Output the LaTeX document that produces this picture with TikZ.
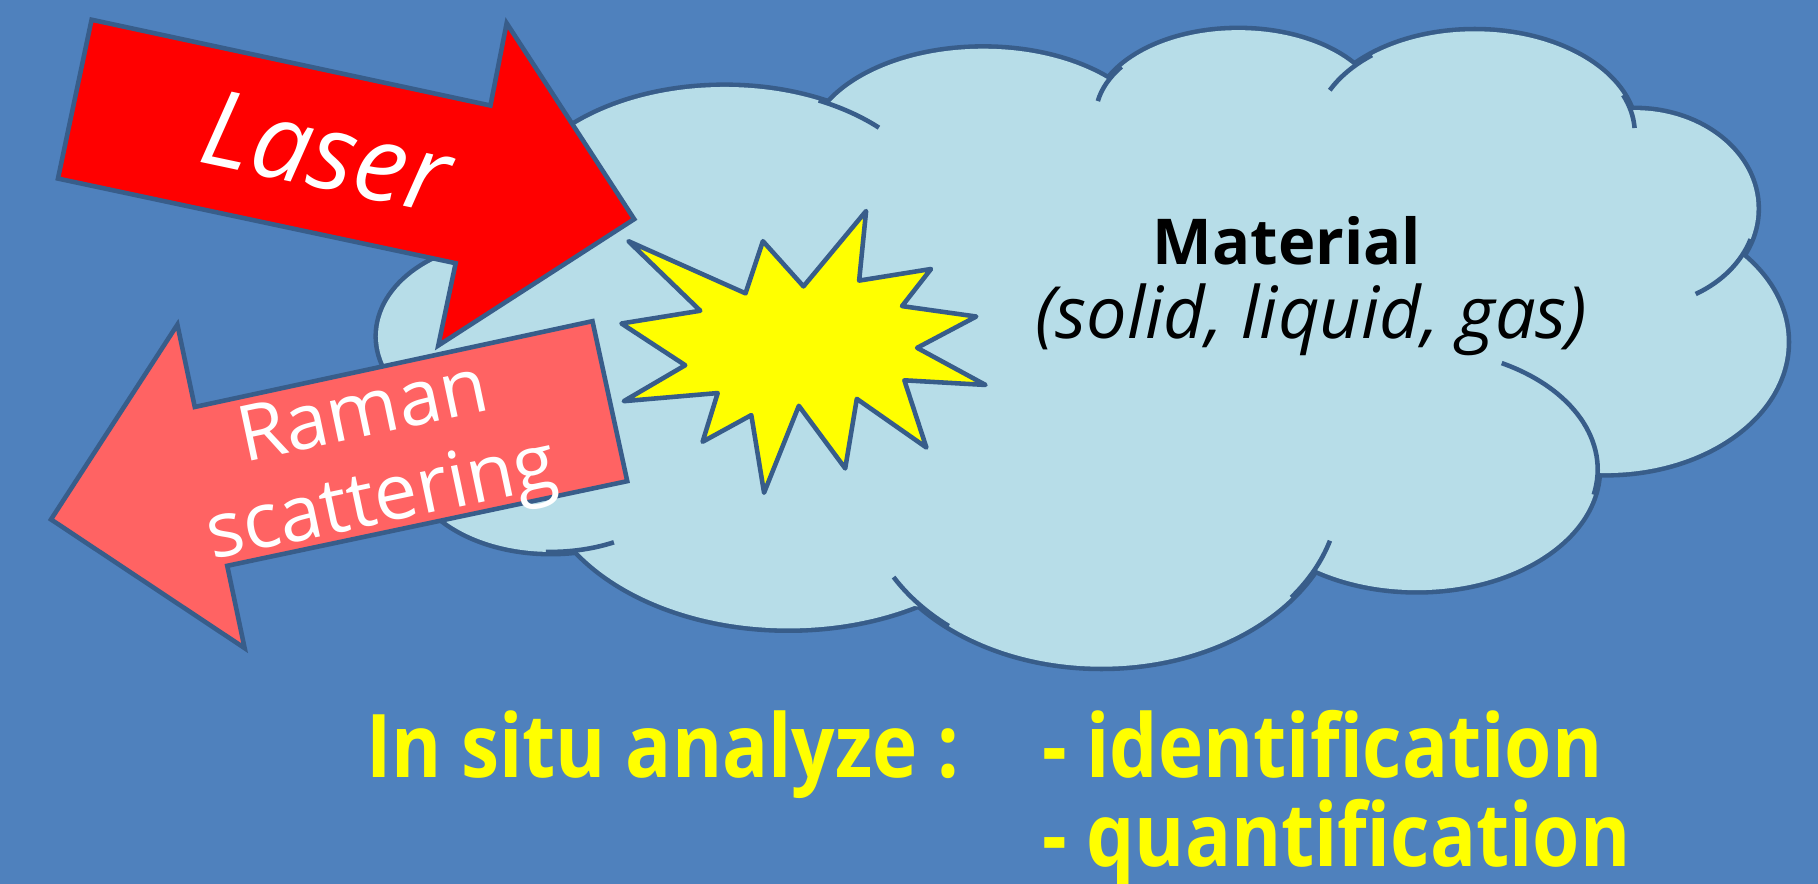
\documentclass[tikz,border=0pt]{standalone}
\usepackage{fontspec}
\setmainfont{Open Sans}
\newfontfamily\narrowfont[FakeStretch=0.87]{Open Sans}
\usetikzlibrary{shapes}

\definecolor{bgblue}{RGB}{79,129,189}
\definecolor{cloudblue}{RGB}{183,221,232}
\definecolor{edgeblue}{RGB}{56,93,138}
\definecolor{laserred}{RGB}{255,0,0}
\definecolor{ramanred}{RGB}{255,99,99}
\definecolor{flashyellow}{RGB}{255,255,0}

\def\lobes{625/190/185/115, 848/130/150/88, 1068/100/123/74, 1272/115/138/88,
  1410/180/105/85, 1385/295/156/113, 1222/405/156/104, 950/425/205/150,
  680/400/215/142, 475/400/120/76, 440/290/114/80}

\begin{document}
\begin{tikzpicture}[x=0.11594mm, y=-0.11594mm,
  cloudline/.style={draw=edgeblue, line width=1.3pt},
  arrowshape/.style={draw=edgeblue, line width=1.3pt},
  flash/.style={draw=edgeblue, fill=flashyellow, line width=1.3pt, line join=round}]
\fill[bgblue] (0,0) rectangle (1568,762);
\useasboundingbox (0,0) rectangle (1568,762);

\foreach \cx/\cy/\rx/\ry in \lobes
  \draw[cloudline, line width=2.6pt, fill=cloudblue] (\cx,\cy) ellipse [x radius=\rx, y radius=\ry];
\foreach \cx/\cy/\rx/\ry in \lobes
  \fill[cloudblue] (\cx,\cy) ellipse [x radius=\rx, y radius=\ry];
\fill[cloudblue] (496,108) -- (721,91) -- (957,68) -- (1164,56) -- (1405,98) -- (1501,220)
  -- (1377,408) -- (1130,492) -- (791,523) -- (491,473) -- (420,440) -- (360,290) -- (375,227) -- cycle;
\foreach \cx/\cy/\rx/\ry/\sa/\ea in {625/190/185/115/-64/-44, 1068/100/123/74/215/190,
  1272/115/138/88/230/205, 1272/115/138/88/-22/-3, 1410/180/105/85/18/60,
  1222/405/156/104/12/-62, 950/425/205/150/37/16, 950/425/205/150/130/151,
  475/400/120/76/92/63}
  \draw[cloudline] ([shift={(\sa:{\rx} and {\ry})}]\cx,\cy)
    arc [start angle=\sa, end angle=\ea, x radius=\rx, y radius=\ry];

\draw[arrowshape, fill=laserred] (79,17) -- (423,91) -- (437,20) -- (547,189) -- (378,298)
  -- (393,227) -- (50,154) -- cycle;
\draw[arrowshape, fill=ramanred] (511,277) -- (541,415) -- (196,488) -- (211,559) -- (44,448)
  -- (153,280) -- (168,351) -- cycle;

\draw[flash] (542,208) -- (643,253) -- (658,208) -- (693,247) -- (747,182) -- (741,242)
  -- (803,232) -- (778,264) -- (842,273) -- (791,300) -- (850,332) -- (780,328)
  -- (799,386) -- (739,344) -- (729,404) -- (689,350) -- (659,425) -- (648,358)
  -- (606,381) -- (619,339) -- (538,346) -- (591,315) -- (536,279) -- (604,268) -- cycle;

\node[anchor=base, rotate=-12, text=white, font=\itshape\fontsize{30}{36}\selectfont] (laser) at (275,162) {Laser};
\node[rotate=12, text=white, align=center, font=\fontsize{22}{25}\selectfont] (raman) at (322,398) {Raman\\scattering};

\node[anchor=base, font=\bfseries\fontsize{18}{22}\selectfont] (material) at (1110,228) {Material};
\node[anchor=base, font=\itshape\fontsize{20.5}{24}\selectfont] (states) at (1131,292) {(solid, liquid, gas)};

\node[anchor=base west, text=flashyellow, font=\narrowfont\bfseries\fontsize{25}{30}\selectfont] (insitu) at (305,671) {In situ analyze :};
\node[anchor=base west, text=flashyellow, font=\narrowfont\bfseries\fontsize{25}{30}\selectfont] (ident) at (888,671) {- identification};
\node[anchor=base west, text=flashyellow, font=\narrowfont\bfseries\fontsize{25}{30}\selectfont] (quant) at (888,747) {- quantification};
\end{tikzpicture}
\end{document}
